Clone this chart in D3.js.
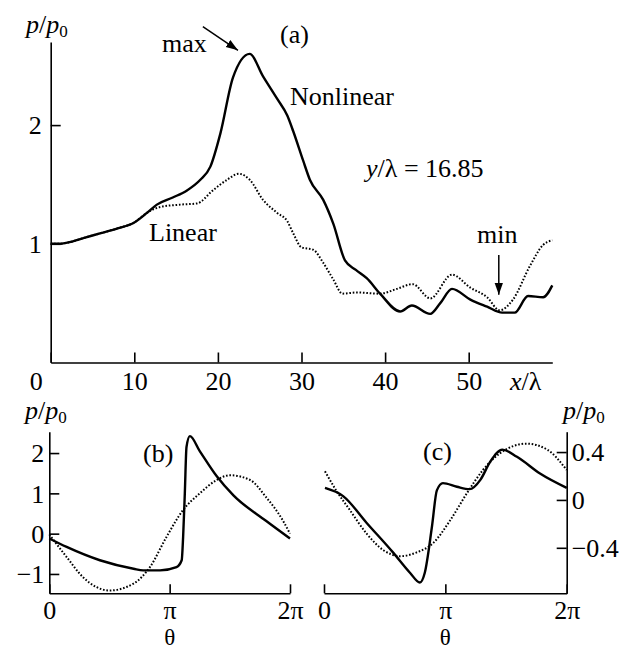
<!DOCTYPE html>
<html>
<head>
<meta charset="utf-8">
<script src="https://cdn.jsdelivr.net/npm/d3@7"></script>
<style>
  body { margin: 0; background: #fff; }
  text { font-family: "Liberation Serif", "Times New Roman", serif; font-size: 26px; fill: #000; }
  .domain, .tick line { stroke: #000; stroke-width: 1.6; }
</style>
</head>
<body>
<div id="chart"></div>
<script>
// panel (a): pressure along x/lambda
const xA = [0, 1, 2, 4, 6, 8, 10, 11.5, 12.7, 14.6, 16.3, 17.9, 19.1, 20.3, 21.8, 23.8, 25.4, 27.1, 28.3, 29.0, 30.2, 31.0, 32.6, 33.8, 35.2, 36.5, 37.8, 39.4, 41.8, 43.2, 45.4, 46.6, 48.0, 50.2, 52.2, 54.0, 55.5, 57.1, 58.9, 60.0];
const nonlinA = [1.0, 1.0, 1.01, 1.05, 1.09, 1.13, 1.18, 1.26, 1.33, 1.39, 1.45, 1.54, 1.65, 1.93, 2.40, 2.60, 2.41, 2.22, 2.08, 1.95, 1.70, 1.54, 1.37, 1.17, 0.86, 0.78, 0.71, 0.58, 0.43, 0.48, 0.41, 0.50, 0.62, 0.53, 0.47, 0.42, 0.42, 0.56, 0.55, 0.65];
const xLinA = [0, 1, 2, 4, 6, 8, 10, 11.5, 13.1, 15.5, 17.5, 19.4, 21.1, 22.5, 23.8, 25.4, 27.1, 28.3, 29.0, 30.0, 31.4, 32.6, 33.8, 34.9, 36.6, 39.4, 41.4, 43.3, 45.4, 48.0, 50.2, 52.2, 53.7, 55.3, 57.3, 58.9, 60.0];
const linA = [1.0, 1.0, 1.01, 1.05, 1.09, 1.13, 1.18, 1.26, 1.31, 1.33, 1.34, 1.45, 1.54, 1.59, 1.54, 1.37, 1.26, 1.19, 1.09, 0.97, 0.95, 0.84, 0.70, 0.58, 0.59, 0.58, 0.62, 0.66, 0.54, 0.74, 0.63, 0.55, 0.44, 0.53, 0.81, 0.99, 1.03];
const ticksXA = [0, 10, 20, 30, 40, 50];
const ticksYA = [1, 2];

// panel (b): theta in units of pi
const thB = [0, 0.144, 0.42, 0.70, 0.78, 0.92, 1.057, 1.10, 1.112, 1.126, 1.14, 1.168, 1.25, 1.39, 1.53, 1.80, 2.0];
const nonlinB = [-0.12, -0.33, -0.66, -0.87, -0.91, -0.91, -0.83, -0.66, -0.08, 1.0, 2.15, 2.42, 2.05, 1.43, 0.95, 0.32, -0.12];
const thLinB = [0, 0.144, 0.28, 0.50, 0.70, 0.836, 0.974, 1.11, 1.25, 1.39, 1.50, 1.67, 1.80, 1.94, 2.0];
const linB = [-0.02, -0.58, -1.08, -1.41, -1.24, -0.83, -0.08, 0.58, 1.0, 1.33, 1.45, 1.33, 0.91, 0.33, 0.0];
const ticksYB = [-1, 0, 1, 2];

// panel (c)
const thC = [0.008, 0.16, 0.35, 0.57, 0.71, 0.79, 0.83, 0.89, 0.93, 0.98, 1.095, 1.20, 1.29, 1.37, 1.47, 1.59, 1.78, 2.0];
const nonlinC = [0.10, 0.03, -0.19, -0.44, -0.61, -0.69, -0.61, -0.22, 0.08, 0.14, 0.11, 0.09, 0.17, 0.32, 0.42, 0.36, 0.22, 0.10];
const thLinC = [0.008, 0.10, 0.21, 0.35, 0.49, 0.63, 0.76, 0.90, 1.04, 1.18, 1.31, 1.45, 1.67, 1.84, 2.0];
const linC = [0.24, 0.08, -0.08, -0.28, -0.42, -0.47, -0.44, -0.36, -0.17, 0.06, 0.25, 0.39, 0.47, 0.42, 0.25];
const ticksYC = [-0.4, 0, 0.4];
const ticksTheta = [0, 1, 2];
const thetaLabels = {0: "0", 1: "π", 2: "2π"};

const width = 630;
const height = 654;

const svg = d3.select("#chart")
    .append("svg")
        .attr("width", width)
        .attr("height", height);

function drawLine(g, xs, ys, x, y, dotted) {
    const line = d3.line()
        .x(d => x(d[0]))
        .y(d => y(d[1]))
        .curve(d3.curveMonotoneX);
    g.append("path")
        .datum(xs.map((v, i) => [v, ys[i]]))
        .attr("fill", "none")
        .attr("stroke", "#000")
        .attr("stroke-width", dotted ? 2 : 2.4)
        .attr("stroke-dasharray", dotted ? "1.6,1.8" : null)
        .attr("stroke-linejoin", "round")
        .attr("d", line);
}

function pLabel(x, y) {
    const t = svg.append("text").attr("x", x).attr("y", y);
    t.append("tspan").attr("font-style", "italic").text("p");
    t.append("tspan").text("/");
    t.append("tspan").attr("font-style", "italic").text("p");
    t.append("tspan").attr("font-size", "17px").attr("dy", 4).text("0");
}

function addText(x, y, s) {
    svg.append("text").attr("x", x).attr("y", y).text(s);
}

// ---- panel (a) ----
const xScaleA = d3.scaleLinear().domain([0, 60]).range([50.7, 552.3]);
const yScaleA = d3.scaleLinear().domain([0, 2.7]).range([362.5, 42]);

const gA = svg.append("g");

gA.append("g")
    .attr("transform", "translate(0," + yScaleA(0) + ")")
    .call(d3.axisBottom(xScaleA).tickValues(ticksXA).tickSizeInner(-10).tickSizeOuter(0))
    .call(g => g.selectAll("text").attr("y", 27).attr("dy", null))
    .call(g => g.selectAll(".tick text").filter(d => d === 0).attr("x", -15));

gA.append("g")
    .attr("transform", "translate(" + xScaleA(0) + ",0)")
    .call(d3.axisLeft(yScaleA).tickValues(ticksYA).tickFormat(d3.format("d"))
        .tickSizeInner(-10).tickSizeOuter(0).tickPadding(9))
    .call(g => g.selectAll("text").attr("dy", "0.34em"));

gA.selectAll("g").attr("font-size", null).attr("font-family", null);

drawLine(gA, xLinA, linA, xScaleA, yScaleA, true);
drawLine(gA, xA, nonlinA, xScaleA, yScaleA, false);

// arrows
svg.append("defs").append("marker")
    .attr("id", "arr")
    .attr("viewBox", "0 0 10 10")
    .attr("refX", 10).attr("refY", 5)
    .attr("markerWidth", 12).attr("markerHeight", 12)
    .attr("markerUnits", "userSpaceOnUse")
    .attr("orient", "auto")
  .append("path")
    .attr("d", "M0,1.5 L10,5 L0,8.5 Z")
    .attr("fill", "#000");

const arrows = [
    {x1: 18.2, y1: 2.83, x2: 22.4, y2: 2.63},
    {x1: 53.6, y1: 0.906, x2: 53.6, y2: 0.57}
];
gA.selectAll(".arrow")
    .data(arrows)
    .enter().append("line")
        .attr("x1", d => xScaleA(d.x1)).attr("y1", d => yScaleA(d.y1))
        .attr("x2", d => xScaleA(d.x2)).attr("y2", d => yScaleA(d.y2))
        .attr("stroke", "#000").attr("stroke-width", 1.5)
        .attr("marker-end", "url(#arr)");

pLabel(26, 33);
addText(280, 43, "(a)");
addText(162, 52, "max");
addText(290, 105, "Nonlinear");
addText(149, 241, "Linear");
addText(477, 243, "min");

const yl = svg.append("text").attr("x", 366).attr("y", 177);
yl.append("tspan").attr("font-style", "italic").text("y");
yl.append("tspan").text("/λ = 16.85");

const xl = svg.append("text").attr("x", 510).attr("y", 390);
xl.append("tspan").attr("font-style", "italic").text("x");
xl.append("tspan").text("/λ");

// ---- panel (b) ----
const xScaleB = d3.scaleLinear().domain([0, 2]).range([49.3, 290]);
const yScaleB = d3.scaleLinear().domain([-1.48, 2.53]).range([593.3, 431.7]);

const gB = svg.append("g");
gB.append("g")
    .attr("transform", "translate(0," + yScaleB(-1.48) + ")")
    .call(d3.axisBottom(xScaleB).tickValues(ticksTheta).tickSizeInner(-9).tickSizeOuter(0)
        .tickFormat(d => thetaLabels[d]))
    .call(g => g.selectAll("text").attr("y", 26).attr("dy", null));
gB.append("g")
    .attr("transform", "translate(" + xScaleB(0) + ",0)")
    .call(d3.axisLeft(yScaleB).tickValues(ticksYB).tickSizeInner(-10).tickSizeOuter(0).tickPadding(5)
        .tickFormat(d => d < 0 ? "−" + Math.abs(d) : d))
    .call(g => g.selectAll("text").attr("dy", "0.34em"));
gB.selectAll("g").attr("font-size", null).attr("font-family", null);

drawLine(gB, thLinB, linB, xScaleB, yScaleB, true);
drawLine(gB, thB, nonlinB, xScaleB, yScaleB, false);

pLabel(25, 419);
addText(143, 462, "(b)");
svg.append("text").attr("x", xScaleB(1)).attr("y", 645).attr("text-anchor", "middle")
    .style("font-size", "23px").text("θ");

// ---- panel (c) ----
const xScaleC = d3.scaleLinear().domain([0, 2]).range([324, 566.7]);
const yScaleC = d3.scaleLinear().domain([-0.78, 0.57]).range([593.3, 431.7]);

const gC = svg.append("g");
gC.append("g")
    .attr("transform", "translate(0," + yScaleC(-0.78) + ")")
    .call(d3.axisBottom(xScaleC).tickValues(ticksTheta).tickSizeInner(-9).tickSizeOuter(0)
        .tickFormat(d => thetaLabels[d]))
    .call(g => g.selectAll("text").attr("y", 26).attr("dy", null));
gC.append("g")
    .attr("transform", "translate(" + xScaleC(2) + ",0)")
    .call(d3.axisRight(yScaleC).tickValues(ticksYC).tickSizeInner(-10).tickSizeOuter(0).tickPadding(5)
        .tickFormat(d => d < 0 ? "−" + Math.abs(d) : String(d)))
    .call(g => g.selectAll("text").attr("dy", "0.34em"));
gC.selectAll("g").attr("font-size", null).attr("font-family", null);

drawLine(gC, thLinC, linC, xScaleC, yScaleC, true);
drawLine(gC, thC, nonlinC, xScaleC, yScaleC, false);

pLabel(563, 419);
addText(423, 460, "(c)");
svg.append("text").attr("x", xScaleC(1)).attr("y", 645).attr("text-anchor", "middle")
    .style("font-size", "23px").text("θ");
</script>
</body>
</html>
